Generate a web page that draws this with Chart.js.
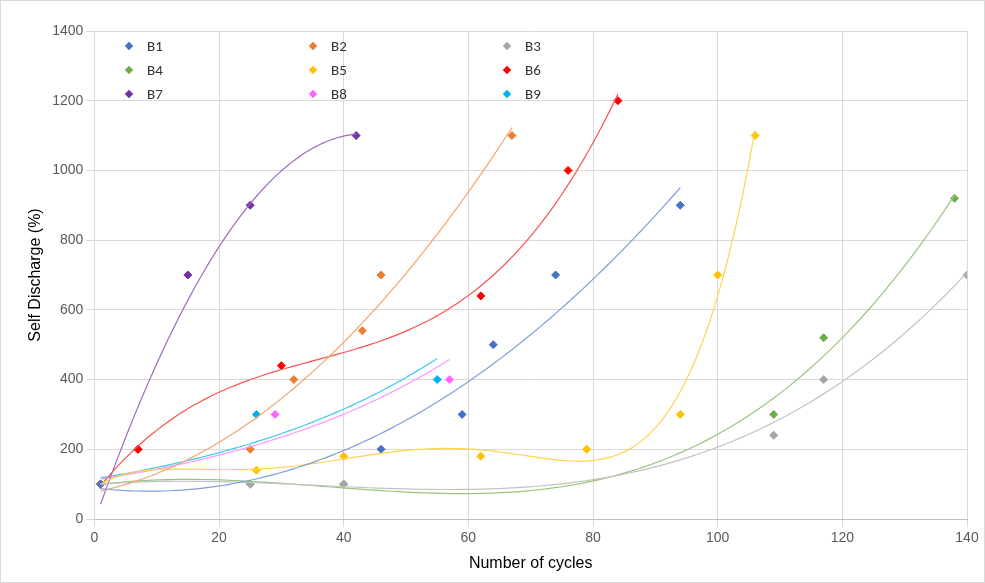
<!DOCTYPE html>
<html><head><meta charset="utf-8">
<script src="https://cdn.jsdelivr.net/npm/chart.js@4"></script>
<style>
body{margin:0;background:#fff;font-family:Calibri,"Liberation Sans",Carlito,sans-serif}
#wrap{position:relative;width:983px;height:581px;border:1px solid #d9d9d9}
.lg{position:absolute;font-size:15px;color:#333;display:flex;align-items:center}
.lg i{display:inline-block;width:6px;height:6px;transform:rotate(45deg);margin-right:15px}
</style></head><body>
<div id="wrap"><canvas id="c" width="983" height="581"></canvas><div id="leg"></div></div>
<script>
const names=['B1','B2','B3','B4','B5','B6','B7','B8','B9'];
const colors=['#4472C4','#ED7D31','#A5A5A5','#70AD47','#FFC000','#FF0000','#7030A0','#FF66FF','#00B0F0'];
const lineColors=['#7f9fd8','#f2a66f','#c3c3c3','#9bc57f','#ffd34f','#ff5050','#9a6bc0','#ff99ff','#40c8f4'];
const order=[2,2,3,3,5,3,2,'exp','exp'];
const xB1=[1,46,59,64,74,94], yB1=[100,200,300,500,700,900];
const xB2=[1,25,32,43,46,67], yB2=[100,200,400,540,700,1100];
const xB3=[1,25,40,109,117,140], yB3=[100,100,100,240,400,700];
const xB4=[1,25,40,109,117,138], yB4=[100,100,100,300,520,920];
const xB5=[1,26,40,62,79,94,100,106], yB5=[100,140,180,180,200,300,700,1100];
const xB6=[1,7,30,62,76,84], yB6=[100,200,440,640,1000,1200];
const xB7=[1,7,15,25,42], yB7=[100,200,700,900,1100];
const xB8=[1,29,57], yB8=[100,300,400];
const xB9=[1,26,55], yB9=[100,300,400];
const xs=[xB1,xB2,xB3,xB4,xB5,xB6,xB7,xB8,xB9], ys=[yB1,yB2,yB3,yB4,yB5,yB6,yB7,yB8,yB9];
function fit(x,y,n){const m=n+1,A=[],b=[];for(let i=0;i<m;i++){A.push(new Array(m).fill(0));b.push(0);}
 x.forEach((xv,k)=>{const t=xv/100;for(let i=0;i<m;i++){b[i]+=y[k]*t**i;for(let j=0;j<m;j++)A[i][j]+=t**(i+j);}});
 for(let i=0;i<m;i++){let p=i;for(let r=i+1;r<m;r++)if(Math.abs(A[r][i])>Math.abs(A[p][i]))p=r;[A[i],A[p]]=[A[p],A[i]];[b[i],b[p]]=[b[p],b[i]];
  for(let r=0;r<m;r++){if(r===i)continue;const f=A[r][i]/A[i][i];for(let c=i;c<m;c++)A[r][c]-=f*A[i][c];b[r]-=f*b[i];}}
 return b.map((v,i)=>v/A[i][i]);}
const ds=[];
names.forEach((nm,k)=>{const lo=Math.min(...xs[k]),hi=Math.max(...xs[k]);const pts=[];let f;
 if(order[k]==='exp'){const c=fit(xs[k],ys[k].map(Math.log),1);f=t=>Math.exp(c[0]+c[1]*t);}
 else{const c=fit(xs[k],ys[k],Math.min(order[k],xs[k].length-1));f=t=>c.reduce((a,v,i)=>a+v*t**i,0);}
 for(let s=0;s<=100;s++){const x=lo+(hi-lo)*s/100;pts.push({x,y:f(x/100)});}
 ds.push({type:'line',data:pts,borderColor:lineColors[k],borderWidth:1.2,pointRadius:0,tension:0,fill:false});});
names.forEach((nm,k)=>ds.push({type:'scatter',label:nm,data:xs[k].map((x,i)=>({x,y:ys[k][i]})),backgroundColor:colors[k],borderColor:colors[k],pointStyle:'rectRot',pointRadius:4}));
new Chart(document.getElementById('c'),{type:'scatter',data:{datasets:ds},options:{responsive:false,animation:false,
 layout:{padding:{left:21,right:17,top:30,bottom:5}},
 plugins:{legend:{display:false},tooltip:{enabled:false}},
 scales:{x:{type:'linear',min:0,max:140,ticks:{stepSize:20,color:'#595959',font:{size:14}},grid:{color:'#d9d9d9'},border:{color:'#bfbfbf'},title:{display:true,text:'Number of cycles',color:'#000',font:{size:16}}},
 y:{min:0,max:1400,ticks:{stepSize:200,color:'#595959',font:{size:14},callback:v=>String(v)},grid:{color:'#d9d9d9'},border:{display:false},title:{display:true,text:'Self Discharge (%)',color:'#000',font:{size:16}}}}}});
const leg=document.getElementById('leg');const cx=[125,309,503],cy=[46,70,94];
names.forEach((nm,k)=>{const d=document.createElement('div');d.className='lg';d.style.left=cx[k%3]+'px';d.style.top=(cy[Math.floor(k/3)]-10)+'px';d.innerHTML='<i style="background:'+colors[k]+'"></i>'+nm;leg.appendChild(d);});
</script></body></html>
